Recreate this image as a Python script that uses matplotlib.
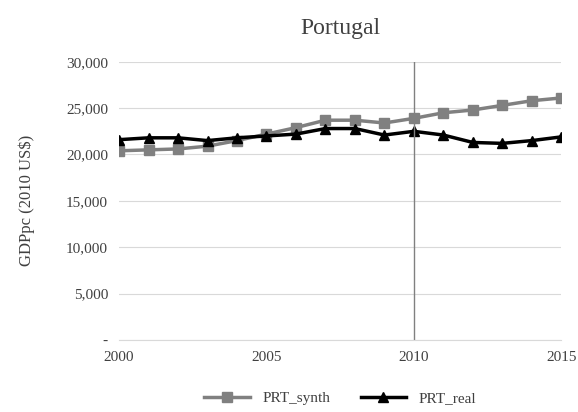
import matplotlib.pyplot as plt
from matplotlib.ticker import FuncFormatter

plt.rcParams['font.family'] = ['Liberation Serif', 'DejaVu Serif']

years = list(range(2000, 2016))
prt_synth = [20400, 20500, 20600, 20900, 21500, 22200, 22900, 23700,
             23700, 23400, 23900, 24500, 24800, 25300, 25800, 26100]
prt_real = [21600, 21800, 21800, 21500, 21800, 22000, 22200, 22800,
            22800, 22100, 22500, 22100, 21300, 21200, 21500, 21900]

fig = plt.figure(figsize=(5.78, 4.12), dpi=100)
ax = fig.add_axes([0.206, 0.175, 0.765, 0.675])

ax.plot(years, prt_synth, color='#808080', marker='s', markersize=7, lw=2.5, label='PRT_synth')
ax.plot(years, prt_real, color='black', marker='^', markersize=7, lw=2.5, label='PRT_real')
ax.axvline(2010, color='#808080', lw=1)

ax.set_xlim(2000, 2015)
ax.set_ylim(0, 30000)
ax.set_xticks([2000, 2005, 2010, 2015])
ax.set_yticks(range(0, 30001, 5000))
ax.yaxis.set_major_formatter(FuncFormatter(lambda v, p: '-' if v == 0 else f'{int(v):,}'))
ax.grid(axis='y', color='#d9d9d9', lw=0.8)
ax.set_axisbelow(True)
for s in ['top', 'right', 'left']:
    ax.spines[s].set_visible(False)
ax.spines['bottom'].set_color('#d9d9d9')
ax.tick_params(length=0, labelsize=11, colors='#404040', pad=8)
ax.set_ylabel('GDPpc (2010 US$)', fontsize=12, color='#404040', labelpad=22)
ax.set_title('Portugal', fontsize=17, color='#404040', pad=20)
ax.legend(loc='upper center', bbox_to_anchor=(0.5, -0.135), ncol=2, frameon=False,
          fontsize=11, labelcolor='#404040', handlelength=3)

plt.savefig('out.png')
